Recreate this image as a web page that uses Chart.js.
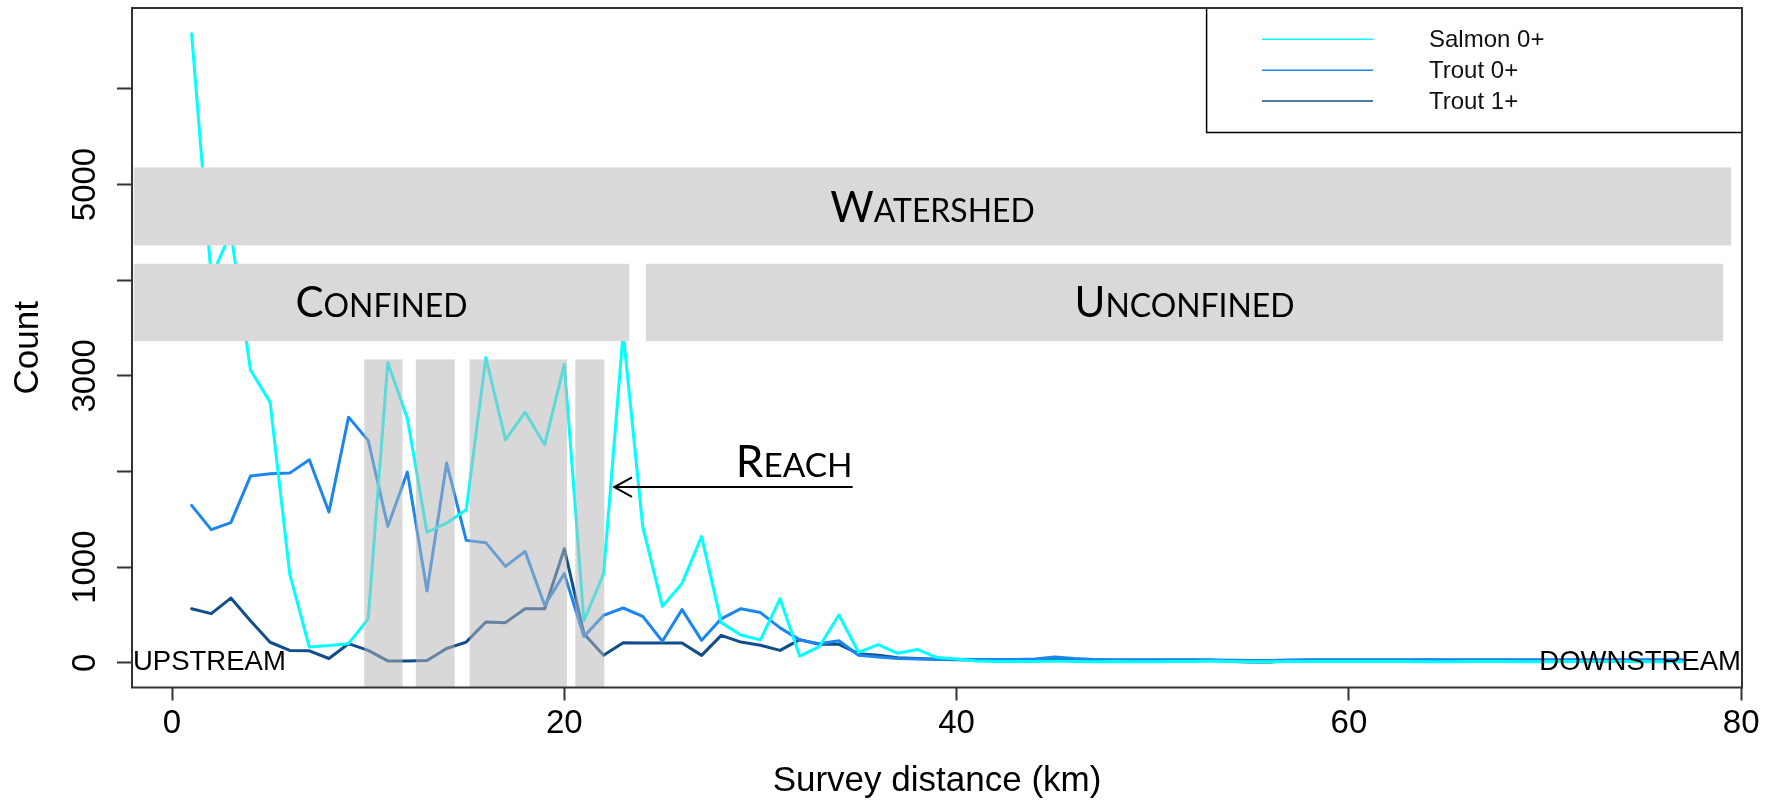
<!DOCTYPE html>
<html>
<head>
<meta charset="utf-8">
<title>Juvenile fish counts along the survey</title>
<script src="https://cdn.jsdelivr.net/npm/chart.js@4.4.1/dist/chart.umd.min.js"></script>
<style>
  body { margin: 0; background: #fff; }
  #wrap { position: relative; width: 1774px; height: 802px; }
</style>
</head>
<body>
<div id="wrap"><canvas id="fish-chart"></canvas></div>
<script>
// survey points, one per km
const distanceKm = [
  1, 2, 3, 4, 5, 6, 7, 8, 9, 10,
  11, 12, 13, 14, 15, 16, 17, 18, 19, 20,
  21, 22, 23, 24, 25, 26, 27, 28, 29, 30,
  31, 32, 33, 34, 35, 36, 37, 38, 39, 40,
  41, 42, 43, 44, 45, 46, 47, 48, 49, 50,
  51, 52, 53, 54, 55, 56, 57, 58, 59, 60,
  61, 62, 63, 64, 65, 66, 67, 68, 69, 70,
  71, 72, 73, 74, 75, 76, 77
];

const salmon0 = [
  6575, 4030, 4500, 3060, 2725, 930, 165, 180, 200, 460,
  3140, 2555, 1365, 1460, 1600, 3190, 2330, 2620, 2280, 3120,
  440, 930, 3450, 1420, 590, 830, 1320, 420, 290, 240,
  670, 70, 170, 500, 110, 190, 100, 140, 55, 40,
  20, 15, 15, 15, 20, 15, 10, 15, 10, 10,
  15, 15, 20, 15, 10, 10, 15, 15, 15, 15,
  15, 15, 15, 10, 10, 15, 15, 15, 10, 10,
  15, 15, 15, 15, 10, 10, 10
];

const trout0 = [
  1646, 1392, 1465, 1952, 1977, 1983, 2123, 1576, 2568, 2325,
  1426, 1994, 750, 2088, 1280, 1256, 1008, 1165, 600, 932,
  275, 496, 573, 486, 225, 556, 235, 460, 566, 525,
  365, 240, 200, 230, 80, 60, 45, 40, 38, 36,
  34, 34, 35, 40, 60, 45, 35, 30, 30, 30,
  30, 30, 30, 28, 25, 25, 30, 30, 30, 30,
  30, 30, 30, 32, 30, 30, 30, 30, 30, 30,
  30, 30, 30, 30, 30, 30, 30
];

const trout1 = [
  566, 514, 677, 440, 215, 130, 125, 45, 200, 130,
  20, 20, 25, 150, 217, 426, 420, 566, 566, 1193,
  305, 78, 211, 207, 207, 207, 78, 287, 217, 183,
  130, 242, 193, 193, 96, 78, 54, 44, 37, 33,
  30, 30, 30, 30, 35, 30, 30, 30, 30, 30,
  30, 30, 30, 15, 8, 8, 25, 30, 30, 30,
  30, 30, 30, 30, 30, 30, 30, 30, 30, 30,
  30, 30, 30, 30, 30, 30, 30
];

const seriesNames = ['Salmon 0+', 'Trout 0+', 'Trout 1+'];
const seriesColors = ['#00ffff', '#1c86ee', '#104e8b'];

const xTicks = [0, 20, 40, 60, 80];
const yTicks = [0, 1000, 2000, 3000, 4000, 5000, 6000];
const yTickLabels = [0, 1000, 3000, 5000];

// river sections along the survey (km)
const watershedKm = [-1.95, 79.49];
const confinedKm = [-1.95, 23.31];
const unconfinedKm = [24.16, 79.08];
const reachKm = [[9.8, 11.75], [12.43, 14.41], [15.17, 20.14], [20.56, 22.04]];

function toPoints(values) {
  return values.map((v, i) => ({ x: distanceKm[i], y: v }));
}

const rFont = 'Liberation Sans, Arial, sans-serif';
const boxFont = 'Lato, "Open Sans", sans-serif';

// first letter full size, the rest as small capitals
function drawSmallCaps(ctx, word, cx, midY, size) {
  const head = word[0].toUpperCase();
  const tail = word.slice(1).toUpperCase();
  const small = size * 0.76;
  ctx.font = size + 'px ' + boxFont;
  const w1 = ctx.measureText(head).width;
  ctx.font = small + 'px ' + boxFont;
  const w2 = ctx.measureText(tail).width;
  const baseline = midY + size * 0.7165 / 2;
  let left = cx - (w1 + w2) / 2;
  ctx.fillStyle = '#000';
  ctx.textAlign = 'left';
  ctx.textBaseline = 'alphabetic';
  ctx.font = size + 'px ' + boxFont;
  ctx.fillText(head, left, baseline);
  ctx.font = small + 'px ' + boxFont;
  ctx.fillText(tail, left + w1, baseline);
}

const sectionOverlay = {
  id: 'sectionOverlay',
  afterDatasetsDraw(chart) {
    const { ctx, chartArea: area, scales: { x, y } } = chart;
    ctx.save();

    // solid section bars
    ctx.fillStyle = '#d9d9d9';
    const bar = (km, top, bottom) => {
      const x0 = x.getPixelForValue(km[0]);
      const x1 = x.getPixelForValue(km[1]);
      const y0 = y.getPixelForValue(top);
      const y1 = y.getPixelForValue(bottom);
      ctx.fillRect(x0, y0, x1 - x0, y1 - y0);
      return { cx: (x0 + x1) / 2, cy: (y0 + y1) / 2 };
    };
    const ws = bar(watershedKm, 5178, 4363);
    const cf = bar(confinedKm, 4171, 3363);
    const uc = bar(unconfinedKm, 4171, 3363);

    // reach bands see-through down to the axis
    ctx.fillStyle = 'rgba(181, 181, 181, 0.52)';
    reachKm.forEach(r => {
      const x0 = x.getPixelForValue(r[0]);
      const x1 = x.getPixelForValue(r[1]);
      const y0 = y.getPixelForValue(3171);
      ctx.fillRect(x0, y0, x1 - x0, area.bottom - y0);
    });

    drawSmallCaps(ctx, 'Watershed', ws.cx, ws.cy, 42);
    drawSmallCaps(ctx, 'Confined', cf.cx, cf.cy, 42);
    drawSmallCaps(ctx, 'Unconfined', uc.cx, uc.cy, 42);
    drawSmallCaps(ctx, 'Reach', x.getPixelForValue(31.72), y.getPixelForValue(1941) - 15.5, 44);

    // arrow pointing back at the reach
    const ay = y.getPixelForValue(1837);
    const tip = x.getPixelForValue(22.55);
    ctx.strokeStyle = '#000';
    ctx.lineWidth = 2;
    ctx.beginPath();
    ctx.moveTo(x.getPixelForValue(34.7), ay);
    ctx.lineTo(tip, ay);
    ctx.moveTo(tip + 17.7, ay - 9.7);
    ctx.lineTo(tip, ay);
    ctx.lineTo(tip + 17.7, ay + 9.7);
    ctx.stroke();

    // ends of the river
    ctx.fillStyle = '#000';
    ctx.font = '27.5px ' + rFont;
    ctx.textBaseline = 'alphabetic';
    const endY = y.getPixelForValue(-78);
    ctx.textAlign = 'left';
    ctx.fillText('UPSTREAM', area.left + 1, endY);
    ctx.textAlign = 'right';
    ctx.fillText('DOWNSTREAM', area.right - 1, endY);

    ctx.restore();
  },
  afterDraw(chart) {
    const { ctx, chartArea: area, scales: { y } } = chart;
    ctx.save();

    // legend box in the top right corner
    const lx = 1206.6, lTop = area.top, lBottom = 132.5;
    ctx.fillStyle = '#fff';
    ctx.fillRect(lx, lTop, area.right - lx, lBottom - lTop);
    ctx.strokeStyle = '#000';
    ctx.lineWidth = 1.5;
    ctx.strokeRect(lx, lTop, area.right - lx, lBottom - lTop);
    ctx.font = '24px ' + rFont;
    ctx.textAlign = 'left';
    ctx.textBaseline = 'middle';
    chart.data.datasets.forEach((ds, i) => {
      const ly = 39.3 + i * 30.9;
      ctx.strokeStyle = ds.borderColor;
      ctx.lineWidth = 1.5;
      ctx.beginPath();
      ctx.moveTo(1262, ly);
      ctx.lineTo(1373, ly);
      ctx.stroke();
      ctx.fillStyle = '#111';
      ctx.fillText(ds.label, 1429, ly + 1);
    });

    // rotated y labels, R style
    ctx.fillStyle = '#000';
    ctx.font = '33px ' + rFont;
    ctx.textAlign = 'center';
    ctx.textBaseline = 'middle';
    yTickLabels.forEach(v => {
      ctx.save();
      ctx.translate(84, y.getPixelForValue(v));
      ctx.rotate(-Math.PI / 2);
      ctx.fillText(String(v), 0, 2);
      ctx.restore();
    });

    // box around the plot
    ctx.strokeStyle = '#333';
    ctx.lineWidth = 2;
    ctx.strokeRect(area.left, area.top, area.right - area.left, area.bottom - area.top);
    ctx.restore();
  }
};

const ctx = document.getElementById('fish-chart').getContext('2d');
const datasets = [salmon0, trout0, trout1].map((values, i) => ({
  label: seriesNames[i],
  data: toPoints(values),
  borderColor: seriesColors[i],
  backgroundColor: seriesColors[i],
  borderWidth: 3,
  pointRadius: 0,
  tension: 0,
  borderJoinStyle: 'round',
  borderCapStyle: 'round',
  fill: false
}));

new Chart(ctx, {
  type: 'line',
  data: { datasets },
  options: {
    responsive: true,
    maintainAspectRatio: false,
    animation: false,
    devicePixelRatio: 1,
    layout: { padding: { top: 8, right: 32, left: 0, bottom: 0 } },
    plugins: {
      legend: { display: false },
      tooltip: { enabled: false }
    },
    scales: {
      x: {
        type: 'linear',
        min: -2.04,
        max: 80.04,
        afterFit: scale => { scale.height = 114.5; },
        afterBuildTicks: scale => { scale.ticks = xTicks.map(v => ({ value: v })); },
        grid: { drawOnChartArea: false, drawTicks: true, tickLength: 13, tickWidth: 2, tickColor: '#333' },
        border: { display: false },
        ticks: { color: '#000', font: { family: rFont, size: 33 }, padding: 4, maxRotation: 0 },
        title: {
          display: true,
          text: 'Survey distance (km)',
          color: '#000',
          font: { family: rFont, size: 35 },
          padding: { top: 0, bottom: 0 }
        }
      },
      y: {
        type: 'linear',
        min: -258,
        max: 6845,
        afterFit: scale => { scale.width = 132; },
        afterBuildTicks: scale => { scale.ticks = yTicks.map(v => ({ value: v })); },
        grid: { drawOnChartArea: false, drawTicks: true, tickLength: 15, tickWidth: 2, tickColor: '#333' },
        border: { display: false },
        ticks: { display: false },
        title: {
          display: true,
          text: 'Count',
          color: '#000',
          font: { family: rFont, size: 35 },
          padding: { top: 7, bottom: 0 }
        }
      }
    }
  },
  plugins: [sectionOverlay]
});
</script>
</body>
</html>
